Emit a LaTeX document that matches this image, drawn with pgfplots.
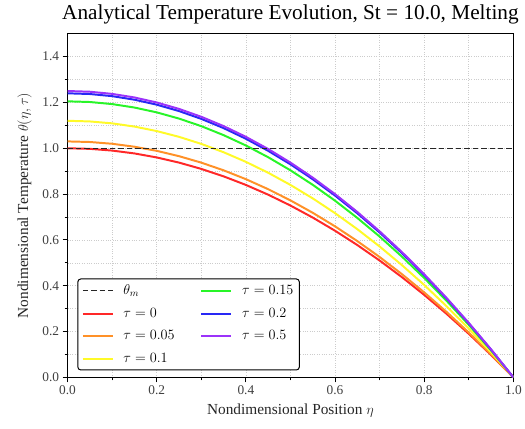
\documentclass[border=0pt]{standalone}
\usepackage{pgfplots}
\pgfplotsset{compat=1.18}
\usepackage{fontspec}
\setmainfont{Liberation Serif}

\definecolor{cRed}{RGB}{255,40,40}
\definecolor{cOrange}{RGB}{255,145,40}
\definecolor{cYellow}{RGB}{255,250,40}
\definecolor{cGreen}{RGB}{40,245,40}
\definecolor{cBlue}{RGB}{40,40,245}
\definecolor{cPurple}{RGB}{155,50,250}

\begin{document}
\begin{tikzpicture}
\begin{axis}[
 scale only axis,
 width=449bp, height=346bp,
 xmin=0, xmax=1, ymin=0, ymax=1.5,
 xtick={0,0.2,...,1.0}, ytick={0,0.2,...,1.4},
 minor x tick num=1, minor y tick num=1,
 xticklabel style={/pgf/number format/.cd,fixed,fixed zerofill,precision=1},
 yticklabel style={/pgf/number format/.cd,fixed,fixed zerofill,precision=1},
 /pgf/number format/assume math mode=true,
 tick label style={font=\fontsize{13.5}{15}\selectfont, color=black!75},
 tick align=outside,
 xtick pos=bottom, ytick pos=left,
 major tick length=5bp, minor tick length=3bp,
 every tick/.style={black, line width=0.8pt},
 axis line style={line width=1pt},
 grid=both,
 major grid style={dotted, gray!40, line width=0.6pt},
 minor grid style={dotted, gray!40, line width=0.6pt},
 title={Analytical Temperature Evolution, St = 10.0, Melting},
 title style={font=\fontsize{21.5}{23}\selectfont, yshift=0bp},
 xlabel={Nondimensional Position $\eta$},
 ylabel={Nondimensional Temperature $\theta(\eta,\tau)$},
 ylabel shift=4bp, xlabel shift=2bp,
 label style={font=\fontsize{15.5}{17}\selectfont, color=black!85},
 no markers,
 legend style={at={(0.022,0.02)}, anchor=south west, draw=black, line width=1pt,
  rounded corners=3bp, font=\fontsize{14}{15}\selectfont, legend columns=4,
  row sep=8bp, inner xsep=4bp, inner ysep=4bp,
  /tikz/every odd column/.append style={column sep=8bp},
  /tikz/every even column/.append style={column sep=24bp}},
 legend cell align={left},
 legend image code/.code={\draw[#1] (0bp,0bp) -- (30bp,0bp);},
 transpose legend,
]
\addplot[black!85, dash pattern=on 5.5bp off 3bp, line width=1.5pt] coordinates {(0,1) (1,1)};
\addlegendentry{$\theta_m$}
\addplot[cRed, line width=2pt] coordinates {
(0,1) (0.05,0.9975) (0.1,0.99) (0.15,0.9775) (0.2,0.96) (0.25,0.9375) (0.3,0.91)
(0.35,0.8775) (0.4,0.84) (0.45,0.7975) (0.5,0.75) (0.55,0.6975) (0.6,0.64)
(0.65,0.5775) (0.7,0.51) (0.75,0.4375) (0.8,0.36) (0.85,0.2775) (0.9,0.19)
(0.95,0.0975) (1,0)};
\addlegendentry{$\tau = 0$}
\addplot[cOrange, line width=2pt] coordinates {
(0,1.03) (0.05,1.0274) (0.1,1.0197) (0.15,1.0068) (0.2,0.9888) (0.25,0.9656) (0.3,0.9373)
(0.35,0.9038) (0.4,0.8652) (0.45,0.8214) (0.5,0.7725) (0.55,0.7184) (0.6,0.6592)
(0.65,0.5948) (0.7,0.5253) (0.75,0.4506) (0.8,0.3708) (0.85,0.2858) (0.9,0.1957)
(0.95,0.1004) (1,0)};
\addlegendentry{$\tau = 0.05$}
\addplot[cYellow, line width=2pt] coordinates {
(0,1.12) (0.05,1.1172) (0.1,1.1088) (0.15,1.0948) (0.2,1.0752) (0.25,1.05) (0.3,1.0192)
(0.35,0.9828) (0.4,0.9408) (0.45,0.8932) (0.5,0.84) (0.55,0.7812) (0.6,0.7168)
(0.65,0.6468) (0.7,0.5712) (0.75,0.49) (0.8,0.4032) (0.85,0.3108) (0.9,0.2128)
(0.95,0.1092) (1,0)};
\addlegendentry{$\tau = 0.1$}
\addplot[cGreen, line width=2pt] coordinates {
(0,1.205) (0.05,1.2020) (0.1,1.1930) (0.15,1.1779) (0.2,1.1568) (0.25,1.1297) (0.3,1.0966)
(0.35,1.0574) (0.4,1.0122) (0.45,0.9610) (0.5,0.9038) (0.55,0.8405) (0.6,0.7712)
(0.65,0.6959) (0.7,0.6146) (0.75,0.5272) (0.8,0.4338) (0.85,0.3344) (0.9,0.2290)
(0.95,0.1175) (1,0)};
\addlegendentry{$\tau = 0.15$}
\addplot[cBlue, line width=2pt] coordinates {
(0,1.24) (0.05,1.2369) (0.1,1.2276) (0.15,1.2121) (0.2,1.1904) (0.25,1.1625) (0.3,1.1284)
(0.35,1.0881) (0.4,1.0416) (0.45,0.9889) (0.5,0.93) (0.55,0.8649) (0.6,0.7936)
(0.65,0.7161) (0.7,0.6324) (0.75,0.5425) (0.8,0.4464) (0.85,0.3441) (0.9,0.2356)
(0.95,0.1209) (1,0)};
\addlegendentry{$\tau = 0.2$}
\addplot[cPurple, line width=2pt] coordinates {
(0,1.25) (0.05,1.2469) (0.1,1.2375) (0.15,1.2219) (0.2,1.2) (0.25,1.1719) (0.3,1.1375)
(0.35,1.0969) (0.4,1.05) (0.45,0.9969) (0.5,0.9375) (0.55,0.8719) (0.6,0.8)
(0.65,0.7219) (0.7,0.6375) (0.75,0.5469) (0.8,0.45) (0.85,0.3469) (0.9,0.2375)
(0.95,0.1219) (1,0)};
\addlegendentry{$\tau = 0.5$}
\addplot[black!85, dash pattern=on 5.5bp off 3bp, line width=1.5pt, forget plot] coordinates {(0,1) (1,1)};
\end{axis}
\path (current axis.south west) ++(-68bp,-52bp);
\path (current axis.north east) ++(8bp,34bp);
\end{tikzpicture}
\end{document}
